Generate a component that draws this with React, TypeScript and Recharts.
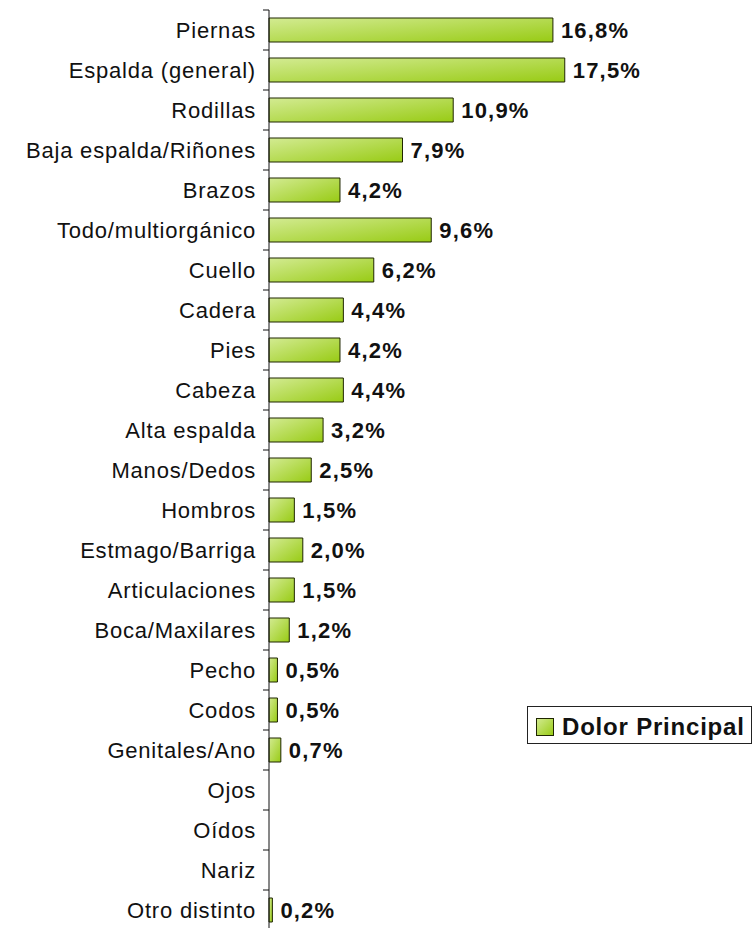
import React from 'react';
import { BarChart, Bar, XAxis, YAxis, LabelList, Legend } from 'recharts';

const categories = [
  'Piernas',
  'Espalda (general)',
  'Rodillas',
  'Baja espalda/Riñones',
  'Brazos',
  'Todo/multiorgánico',
  'Cuello',
  'Cadera',
  'Pies',
  'Cabeza',
  'Alta espalda',
  'Manos/Dedos',
  'Hombros',
  'Estmago/Barriga',
  'Articulaciones',
  'Boca/Maxilares',
  'Pecho',
  'Codos',
  'Genitales/Ano',
  'Ojos',
  'Oídos',
  'Nariz',
  'Otro distinto',
];

const values: (number | null)[] = [
  16.8, 17.5, 10.9, 7.9, 4.2, 9.6, 6.2, 4.4, 4.2, 4.4, 3.2, 2.5, 1.5, 2.0, 1.5, 1.2, 0.5, 0.5, 0.7,
  null, null, null, 0.2,
];

const seriesName = 'Dolor Principal';

const data = categories.map((name, i) => ({ name, value: values[i] }));

const FONT = '"Liberation Sans", Arial, Helvetica, sans-serif';
const CHART_W = 745;
const CHART_H = 940;
const AXIS_X = 261;
const MARGIN = { top: 2, right: 146, bottom: 18, left: 0 };
const BAND = (CHART_H - MARGIN.top - MARGIN.bottom) / categories.length;

const CategoryTick = (props: any) => {
  const { y, payload, index } = props;
  const isLast = index === categories.length - 1;
  return (
    <g>
      <line x1={AXIS_X - 6} x2={AXIS_X} y1={y - BAND / 2} y2={y - BAND / 2} stroke="#111" strokeWidth={1} />
      {isLast && (
        <line x1={AXIS_X - 6} x2={AXIS_X} y1={y + BAND / 2} y2={y + BAND / 2} stroke="#111" strokeWidth={1} />
      )}
      <text
        x={AXIS_X - 13}
        y={y}
        dy="0.35em"
        textAnchor="end"
        fill="#111"
        fontFamily={FONT}
        fontSize={22}
        letterSpacing={0.8}
      >
        {payload.value}
      </text>
    </g>
  );
};

const ValueLabel = (props: any) => {
  const { x, y, width, height, value } = props;
  if (value === null || value === undefined) return null;
  return (
    <text
      x={x + width + 8}
      y={y + height / 2}
      dy="0.36em"
      textAnchor="start"
      fill="#111"
      fontFamily={FONT}
      fontSize={22}
      fontWeight="bold"
      letterSpacing={1.2}
    >
      {Number(value).toFixed(1).replace('.', ',') + '%'}
    </text>
  );
};

const LegendBox = () => (
  <div
    style={{
      width: 225,
      height: 38,
      border: '1px solid #222',
      background: '#fff',
      display: 'flex',
      alignItems: 'center',
      boxSizing: 'border-box',
      paddingTop: 3,
      overflow: 'hidden',
    }}
  >
    <svg width={18} height={18} style={{ marginLeft: 8, marginRight: 8, flex: 'none' }}>
      <defs>
        <linearGradient id="legGrad" x1="0" y1="0" x2="1" y2="1">
          <stop offset="0%" stopColor="#d3eb92" />
          <stop offset="100%" stopColor="#98cb14" />
        </linearGradient>
      </defs>
      <rect x={0.5} y={0.5} width={17} height={17} fill="url(#legGrad)" stroke="#1f2600" />
    </svg>
    <span
      style={{
        fontFamily: FONT,
        fontSize: 24,
        fontWeight: 'bold',
        color: '#111',
        letterSpacing: 0.8,
        whiteSpace: 'nowrap',
        lineHeight: '24px',
      }}
    >
      {seriesName}
    </span>
  </div>
);

export default function App() {
  return (
    <div
      style={{
        position: 'fixed',
        left: 8,
        top: 8,
        width: CHART_W,
        height: 920,
        overflow: 'hidden',
        background: '#fff',
      }}
    >
      <BarChart
        width={CHART_W}
        height={CHART_H}
        data={data}
        layout="vertical"
        margin={MARGIN}
        barCategoryGap="20%"
      >
        <defs>
          <linearGradient id="barGrad" x1="0" y1="0" x2="1" y2="1">
            <stop offset="0%" stopColor="#d3eb92" />
            <stop offset="100%" stopColor="#98cb14" />
          </linearGradient>
        </defs>
        <XAxis type="number" domain={[0, 20]} hide />
        <YAxis
          type="category"
          dataKey="name"
          width={AXIS_X}
          axisLine={{ stroke: '#111', strokeWidth: 1 }}
          tickLine={false}
          tick={<CategoryTick />}
          interval={0}
        />
        <Legend
          layout="vertical"
          align="center"
          verticalAlign="middle"
          content={() => <LegendBox />}
          wrapperStyle={{ position: 'absolute', left: 519, top: 698, width: 225 }}
        />
        <Bar
          dataKey="value"
          name={seriesName}
          fill="url(#barGrad)"
          stroke="#1f2600"
          strokeWidth={1}
          isAnimationActive={false}
        >
          <LabelList dataKey="value" content={<ValueLabel />} />
        </Bar>
      </BarChart>
    </div>
  );
}
